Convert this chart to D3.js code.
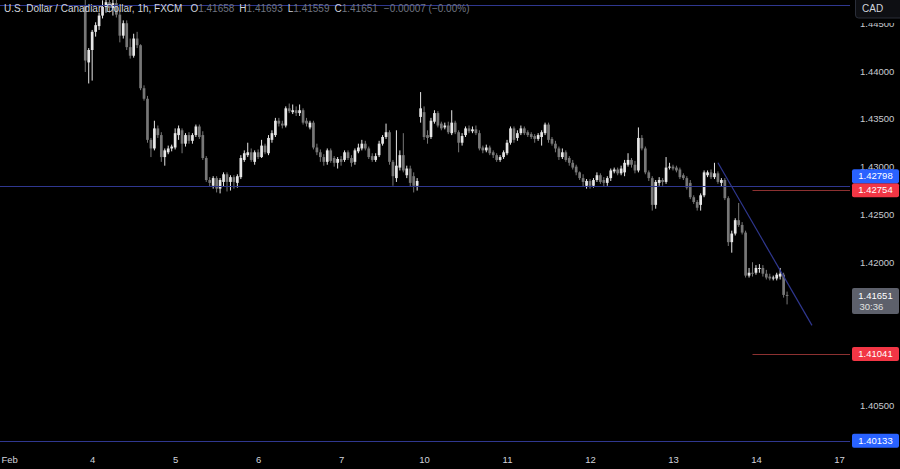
<!DOCTYPE html>
<html><head><meta charset="utf-8">
<script src="https://cdn.jsdelivr.net/npm/d3@7/dist/d3.min.js"></script>
<style>html,body{margin:0;padding:0;background:#000;overflow:hidden}svg{display:block}</style>
</head><body><svg id="c" width="900" height="469"></svg>
<script>
// hourly bars, index = hours since Feb 3 00:00 (weekend removed)
const firstBar = 22;
const opens = [1.4469,1.4409,1.4422,1.4441,1.4447,1.4458,1.4467,1.4472,1.4466,1.4471,1.4459,1.4437,1.4450,1.4425,1.4416,1.4434,1.4427,1.4382,1.4371,1.4328,1.4319,1.4340,1.4333,1.4310,1.4315,1.4319,1.4320,1.4333,1.4338,1.4324,1.4333,1.4327,1.4333,1.4342,1.4333,1.4309,1.4286,1.4280,1.4288,1.4277,1.4284,1.4292,1.4284,1.4289,1.4283,1.4289,1.4307,1.4312,1.4315,1.4305,1.4315,1.4310,1.4322,1.4314,1.4328,1.4333,1.4348,1.4345,1.4343,1.4361,1.4357,1.4359,1.4356,1.4359,1.4348,1.4341,1.4346,1.4320,1.4315,1.4310,1.4305,1.4317,1.4309,1.4304,1.4308,1.4307,1.4315,1.4309,1.4305,1.4316,1.4319,1.4324,1.4319,1.4311,1.4307,1.4312,1.4324,1.4331,1.4336,1.4305,1.4288,1.4299,1.4312,1.4291,1.4298,1.4290,1.4280,1.4352,1.4357,1.4333,1.4331,1.4347,1.4356,1.4345,1.4341,1.4343,1.4335,1.4346,1.4336,1.4325,1.4333,1.4340,1.4337,1.4339,1.4335,1.4320,1.4317,1.4320,1.4315,1.4312,1.4307,1.4310,1.4314,1.4325,1.4340,1.4330,1.4335,1.4340,1.4336,1.4334,1.4332,1.4329,1.4331,1.4335,1.4344,1.4329,1.4324,1.4319,1.4310,1.4315,1.4309,1.4304,1.4300,1.4294,1.4288,1.4280,1.4285,1.4280,1.4286,1.4291,1.4286,1.4283,1.4288,1.4295,1.4297,1.4293,1.4294,1.4302,1.4307,1.4302,1.4296,1.4330,1.4319,1.4294,1.4288,1.4260,1.4283,1.4286,1.4284,1.4299,1.4300,1.4299,1.4297,1.4291,1.4288,1.4283,1.4268,1.4263,1.4260,1.4270,1.4291,1.4294,1.4289,1.4293,1.4283,1.4286,1.4267,1.4221,1.4230,1.4244,1.4239,1.4231,1.4186,1.4189,1.4189,1.4193,1.4194,1.4188,1.4185,1.4183,1.4183,1.4185,1.4187,1.41658];
const highs = [1.4477,1.4424,1.4443,1.4451,1.4461,1.4474,1.4479,1.4477,1.4476,1.4478,1.4464,1.4453,1.4453,1.4434,1.4439,1.4441,1.4428,1.4385,1.4374,1.4330,1.4348,1.4343,1.4336,1.4319,1.4322,1.4323,1.4340,1.4343,1.4340,1.4335,1.4336,1.4335,1.4344,1.4344,1.4337,1.4311,1.4289,1.4290,1.4290,1.4288,1.4294,1.4294,1.4291,1.4291,1.4292,1.4312,1.4317,1.4325,1.4319,1.4317,1.4318,1.4328,1.4324,1.4333,1.4338,1.4351,1.4351,1.4348,1.4363,1.4366,1.4365,1.4363,1.4365,1.4361,1.4351,1.4348,1.4348,1.4324,1.4318,1.4313,1.4319,1.4319,1.4311,1.4310,1.4311,1.4317,1.4317,1.4312,1.4319,1.4324,1.4328,1.4327,1.4321,1.4314,1.4314,1.4327,1.4333,1.4345,1.4338,1.4307,1.4338,1.4317,1.4335,1.4301,1.4301,1.4294,1.4288,1.4378,1.4363,1.4338,1.4351,1.4359,1.4358,1.4347,1.4346,1.4347,1.4359,1.4348,1.4338,1.4335,1.4342,1.4343,1.4342,1.4343,1.4338,1.4322,1.4323,1.4322,1.4317,1.4314,1.4312,1.4317,1.4328,1.4342,1.4342,1.4338,1.4343,1.4342,1.4338,1.4336,1.4334,1.4335,1.4338,1.4346,1.4346,1.4331,1.4327,1.4321,1.4319,1.4317,1.4311,1.4307,1.4302,1.4295,1.4292,1.4287,1.4287,1.4288,1.4294,1.4293,1.4289,1.4290,1.4298,1.4299,1.4299,1.4301,1.4307,1.4314,1.4309,1.4306,1.4341,1.4333,1.4321,1.4296,1.4290,1.4286,1.4289,1.4288,1.4310,1.4304,1.4302,1.4301,1.4299,1.4293,1.4290,1.4286,1.4270,1.4265,1.4272,1.4296,1.4296,1.4297,1.4304,1.4295,1.4288,1.4288,1.4269,1.4233,1.4246,1.4262,1.4242,1.4233,1.4194,1.4200,1.4197,1.4198,1.4197,1.4192,1.4188,1.4186,1.4189,1.4194,1.4189,1.41693];
const lows = [1.4399,1.4387,1.4390,1.4436,1.4443,1.4455,1.4461,1.4461,1.4458,1.4456,1.4430,1.4434,1.4422,1.4413,1.4414,1.4424,1.4380,1.4369,1.4325,1.4310,1.4317,1.4330,1.4305,1.4301,1.4313,1.4316,1.4318,1.4328,1.4314,1.4321,1.4324,1.4324,1.4331,1.4329,1.4307,1.4284,1.4279,1.4277,1.4273,1.4272,1.4279,1.4274,1.4275,1.4277,1.4278,1.4287,1.4305,1.4310,1.4305,1.4302,1.4308,1.4309,1.4313,1.4312,1.4325,1.4331,1.4342,1.4340,1.4341,1.4356,1.4355,1.4353,1.4353,1.4344,1.4342,1.4339,1.4318,1.4312,1.4305,1.4301,1.4302,1.4304,1.4300,1.4298,1.4301,1.4305,1.4307,1.4300,1.4302,1.4314,1.4317,1.4317,1.4308,1.4305,1.4305,1.4310,1.4322,1.4329,1.4302,1.4280,1.4284,1.4296,1.4294,1.4288,1.4279,1.4273,1.4275,1.4346,1.4328,1.4324,1.4329,1.4345,1.4341,1.4338,1.4339,1.4334,1.4333,1.4334,1.4315,1.4322,1.4331,1.4335,1.4335,1.4333,1.4317,1.4314,1.4315,1.4312,1.4309,1.4305,1.4305,1.4308,1.4312,1.4323,1.4325,1.4327,1.4333,1.4333,1.4331,1.4329,1.4325,1.4327,1.4322,1.4333,1.4325,1.4322,1.4315,1.4307,1.4308,1.4305,1.4301,1.4297,1.4291,1.4286,1.4279,1.4277,1.4277,1.4278,1.4284,1.4282,1.4279,1.4280,1.4285,1.4293,1.4291,1.4291,1.4290,1.4300,1.4299,1.4293,1.4294,1.4317,1.4292,1.4285,1.4254,1.4256,1.4280,1.4280,1.4282,1.4297,1.4296,1.4294,1.4287,1.4286,1.4276,1.4266,1.4261,1.4254,1.4254,1.4268,1.4289,1.4287,1.4287,1.4282,1.4279,1.4265,1.4217,1.4210,1.4228,1.4237,1.4229,1.4184,1.4184,1.4185,1.4187,1.4189,1.4185,1.4182,1.4181,1.4181,1.4181,1.4182,1.4163,1.41559];
const closes = [1.4411,1.4422,1.4441,1.4448,1.4458,1.4467,1.4472,1.4466,1.4471,1.4459,1.4437,1.4450,1.4425,1.4416,1.4434,1.4427,1.4382,1.4371,1.4328,1.4319,1.4340,1.4333,1.4310,1.4317,1.4319,1.4321,1.4335,1.4340,1.4324,1.4333,1.4327,1.4333,1.4342,1.4331,1.4309,1.4286,1.4283,1.4288,1.4277,1.4286,1.4292,1.4284,1.4289,1.4284,1.4290,1.4309,1.4314,1.4315,1.4307,1.4315,1.4310,1.4322,1.4315,1.4330,1.4335,1.4348,1.4345,1.4343,1.4361,1.4358,1.4359,1.4356,1.4359,1.4346,1.4345,1.4346,1.4320,1.4315,1.4310,1.4305,1.4317,1.4306,1.4304,1.4308,1.4305,1.4315,1.4309,1.4304,1.4317,1.4320,1.4324,1.4319,1.4310,1.4307,1.4311,1.4324,1.4331,1.4336,1.4305,1.4290,1.4301,1.4312,1.4296,1.4298,1.4283,1.4280,1.4285,1.4361,1.4331,1.4330,1.4348,1.4356,1.4343,1.4340,1.4343,1.4336,1.4346,1.4336,1.4325,1.4332,1.4340,1.4337,1.4339,1.4335,1.4319,1.4317,1.4320,1.4314,1.4312,1.4307,1.4310,1.4315,1.4325,1.4340,1.4328,1.4335,1.4340,1.4335,1.4333,1.4331,1.4329,1.4333,1.4336,1.4344,1.4328,1.4324,1.4319,1.4310,1.4315,1.4307,1.4304,1.4299,1.4294,1.4288,1.4284,1.4285,1.4280,1.4286,1.4291,1.4284,1.4283,1.4288,1.4296,1.4297,1.4293,1.4298,1.4304,1.4307,1.4302,1.4296,1.4330,1.4319,1.4294,1.4288,1.4260,1.4284,1.4286,1.4284,1.4299,1.4300,1.4298,1.4296,1.4289,1.4288,1.4278,1.4268,1.4263,1.4257,1.4270,1.4294,1.4294,1.4289,1.4293,1.4284,1.4286,1.4267,1.4221,1.4230,1.4244,1.4239,1.4231,1.4186,1.4189,1.4188,1.4194,1.4194,1.4188,1.4184,1.4183,1.4184,1.4187,1.4188,1.41658,1.41651];

const dayTickIndex = [0,24,48,72,96,120,144,168,192,216,240];
const dayTickLabels = ["Feb","4","5","6","7","10","11","12","13","14","17"];
const priceTicks = [1.445,1.44,1.435,1.43,1.425,1.42,1.405];

const blueLevels = [1.4469, 1.42798, 1.40133];
const redLevels = [1.42754, 1.41041];
const redStartIndex = 215;
const trendStart = {i:205, p:1.4304};
const trendEnd = {i:232.2, p:1.4134};
const lastPrice = 1.41651, countdown = "30:36";
const titleText = "U.S. Dollar / Canadian Dollar, 1h, FXCM";
const ohlcLegend = [["O","1.41658"],["H","1.41693"],["L","1.41559"],["C","1.41651"]];
const changeText = "\u22120.00007 (\u22120.00%)";

const bars = closes.map((c,k)=>({i:firstBar+k,o:opens[k],h:highs[k],l:lows[k],c:c}));

const W=900,H=469, plotW=850, plotH=452;
const FONT = "'Liberation Sans', Arial, sans-serif";
const svg = d3.select("#c");
svg.append("rect").attr("width",W).attr("height",H).attr("fill","#000");

const x = d3.scaleLinear().domain([-2.66,243.2]).range([0,plotW]);
const y = d3.scaleLinear().domain([1.40015,1.44743]).range([plotH,0]);

svg.append("defs").append("clipPath").attr("id","clip").append("rect").attr("width",plotW).attr("height",plotH);
const plot = svg.append("g").attr("clip-path","url(#clip)");

const UP="#e6e6e6", DN="#777777";
const bw = 2.7;
const cg = plot.append("g");
cg.selectAll("line").data(bars).join("line")
  .attr("x1",d=>x(d.i)).attr("x2",d=>x(d.i))
  .attr("y1",d=>y(d.h)).attr("y2",d=>y(d.l))
  .attr("stroke",d=>d.c>=d.o?UP:DN).attr("stroke-width",1);
cg.selectAll("rect").data(bars).join("rect")
  .attr("x",d=>x(d.i)-bw/2).attr("width",bw)
  .attr("y",d=>y(Math.max(d.o,d.c)))
  .attr("height",d=>Math.max(1,y(Math.min(d.o,d.c))-y(Math.max(d.o,d.c))))
  .attr("fill",d=>d.c>=d.o?UP:DN);

// drawings
const BL="#2f378f", RD="#8c3131";
plot.selectAll(".hb").data(blueLevels).join("line").attr("class","hb")
  .attr("x1",0).attr("x2",plotW).attr("y1",d=>Math.round(y(d))+0.5).attr("y2",d=>Math.round(y(d))+0.5)
  .attr("stroke",BL).attr("stroke-width",1);
plot.selectAll(".hr").data(redLevels).join("line").attr("class","hr")
  .attr("x1",x(redStartIndex)).attr("x2",plotW).attr("y1",d=>Math.round(y(d))+0.5).attr("y2",d=>Math.round(y(d))+0.5)
  .attr("stroke",RD).attr("stroke-width",1);
plot.append("line").attr("x1",x(trendStart.i)).attr("y1",y(trendStart.p))
  .attr("x2",x(trendEnd.i)).attr("y2",y(trendEnd.p)).attr("stroke",BL).attr("stroke-width",1.2);

// legend
const lg = svg.append("text").attr("x",4).attr("y",12).attr("font-family",FONT).attr("font-size",10);
lg.append("tspan").attr("fill","#d1d4dc").text(titleText);
ohlcLegend.forEach(([k,v],n)=>{
  lg.append("tspan").attr("fill","#d1d4dc").attr("dx", n===0?8:5).text(k);
  lg.append("tspan").attr("fill","#6f7480").text(v);
});
lg.append("tspan").attr("fill","#6f7480").attr("dx",6).text(changeText);

// price axis
const ya = svg.append("g").attr("transform",`translate(857,0)`)
  .call(d3.axisRight(y).tickValues(priceTicks).tickFormat(d3.format(".5f")).tickSize(0).tickPadding(3));
ya.select(".domain").remove();
ya.selectAll("text").attr("fill","#c8cad0").attr("font-size",9.5).attr("font-family",FONT);

// time axis
const xa = svg.append("g").attr("transform",`translate(0,${plotH})`)
  .call(d3.axisBottom(x).tickValues(dayTickIndex).tickFormat((d,k)=>dayTickLabels[k]).tickSize(0).tickPadding(4));
xa.select(".domain").remove();
xa.selectAll("text").attr("fill","#d1d4dc").attr("font-size",9.5).attr("font-family",FONT);

// price labels with collision stacking
const LH=14;
const labels = [
  {p:1.42798,fill:"#2962ff"},{p:1.42754,fill:"#f23645"},
  {p:1.41041,fill:"#f23645"},{p:1.40133,fill:"#2962ff"}
].map(d=>({...d,cy:y(d.p)})).sort((a,b)=>b.cy-a.cy);
let prevTop = Infinity;
labels.forEach(d=>{ let top=d.cy-LH/2; if(top+LH>prevTop) top=prevTop-LH; d.top=top; prevTop=top; });
const lab = svg.append("g");
labels.forEach(d=>{
  lab.append("rect").attr("x",852).attr("y",d.top).attr("width",47).attr("height",LH).attr("rx",2).attr("fill",d.fill);
  lab.append("text").attr("x",875.5).attr("y",d.top+LH/2+3.3).attr("text-anchor","middle")
    .attr("fill","#fff").attr("font-size",9.5).attr("font-family",FONT).text(d3.format(".5f")(d.p));
});
// last price + countdown
const ly = y(lastPrice);
lab.append("rect").attr("x",852).attr("y",ly-7.5).attr("width",47).attr("height",26).attr("rx",2).attr("fill","#5d606b");
lab.append("text").attr("x",875.5).attr("y",ly+3.3).attr("text-anchor","middle").attr("fill","#fff")
  .attr("font-size",9.5).attr("font-family",FONT).text(d3.format(".5f")(lastPrice));
lab.append("text").attr("x",859.5).attr("y",ly+14.5).attr("fill","#e0e0e0")
  .attr("font-size",9.5).attr("font-family",FONT).text(countdown);

// currency box (covers top of the highest axis label)
svg.append("rect").attr("x",852).attr("y",0).attr("width",48).attr("height",23).attr("fill","#000");
svg.append("rect").attr("x",855.5).attr("y",-3).attr("width",50).attr("height",21).attr("rx",3)
  .attr("fill","#0e0f13").attr("stroke","#2a2e39");
svg.append("text").attr("x",862).attr("y",11.5).attr("fill","#d1d4dc").attr("font-size",10).attr("font-family",FONT).text("CAD");
</script></body></html>
